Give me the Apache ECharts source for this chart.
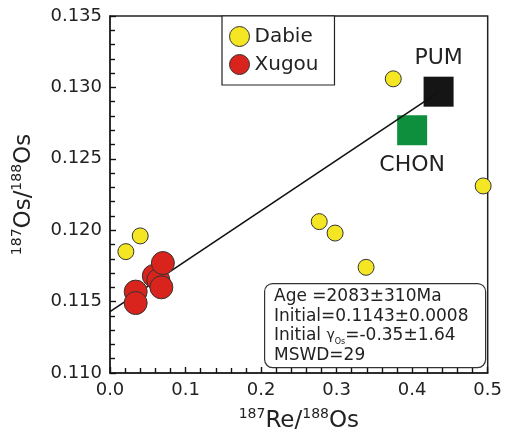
<!DOCTYPE html>
<html>
<head>
<meta charset="utf-8">
<script src="https://cdn.jsdelivr.net/npm/echarts@6/dist/echarts.min.js"></script>
<style>
  html, body { margin: 0; padding: 0; background: #fff; }
  #chart { width: 505px; height: 439px; }
</style>
</head>
<body>
<div id="chart"></div>
<script>
// Re/Os 等时线数据
const dabie = [
  [0.021, 0.1185], [0.040, 0.1196], [0.277, 0.1206], [0.298, 0.1198],
  [0.339, 0.1174], [0.375, 0.1306], [0.494, 0.1231]
];
const xugou = [
  [0.034, 0.1157], [0.034, 0.1149], [0.058, 0.1168],
  [0.064, 0.1165], [0.068, 0.1160], [0.070, 0.1177]
];
const pum = [[0.435, 0.1297]];
const chon = [[0.400, 0.1270]];
const isochron = [[0, 0.1143], [0.433, 0.1296]];
// 坐标轴：最小值、最大值、标签间隔、小数位
const xTicks = { min: 0, max: 0.5, step: 0.1, digits: 1 };
const yTicks = { min: 0.110, max: 0.135, step: 0.005, digits: 3 };
const infoLines = [
  'Age =2083±310Ma',
  'Initial=0.1143±0.0008',
  'Initial {g|γ}{sub|Os}=-0.35±1.64',
  'MSWD=29'
];

const FONT = '"DejaVu Sans", Verdana, sans-serif';
const ink = '#222';

const titleRich = {
  b: { fontFamily: FONT, fontSize: 23, color: ink, verticalAlign: 'bottom', lineHeight: 26 },
  sup: { fontFamily: FONT, fontSize: 14, color: ink, verticalAlign: 'top', lineHeight: 26 }
};

const myChart = echarts.init(document.getElementById('chart'));

const axisCommon = t => ({
  type: 'value',
  min: t.min, max: t.max, interval: t.step,
  splitLine: { show: false },
  axisLine: { show: true, lineStyle: { color: ink, width: 1.5 } },
  axisTick: { show: true, inside: true, length: 6, lineStyle: { color: '#111', width: 1.4 } },
  minorTick: { show: true, splitNumber: 5, length: 5, lineStyle: { color: '#111', width: 1.4 } },
  axisLabel: {
    fontFamily: FONT, fontSize: 18, color: ink,
    formatter: v => v.toFixed(t.digits)
  }
});

const option = {
  animation: false,
  grid: {
    left: 110, top: 16, right: 17, bottom: 66,
    show: true, backgroundColor: 'rgba(0,0,0,0)',
    borderColor: ink, borderWidth: 1.5
  },
  legend: {
    data: ['Dabie', 'Xugou'],
    orient: 'vertical',
    left: 222, top: 16,
    padding: [10, 16, 10, 7],
    itemGap: 7,
    itemWidth: 20, itemHeight: 20,
    itemStyle: { borderColor: '#333', borderWidth: 1 },
    icon: 'circle',
    borderColor: ink, borderWidth: 1.2,
    backgroundColor: '#fff',
    textStyle: { fontFamily: FONT, fontSize: 20, color: ink }
  },
  xAxis: Object.assign(axisCommon(xTicks), {
    name: '{sup|187}{b|Re/}{sup|188}{b|Os}',
    nameLocation: 'middle', nameGap: 34,
    nameTextStyle: { rich: titleRich }
  }),
  yAxis: Object.assign(axisCommon(yTicks), {
    name: '{sup|187}{b|Os/}{sup|188}{b|Os}',
    nameLocation: 'middle', nameGap: 74, nameRotate: 90,
    nameTextStyle: { rich: titleRich }
  }),
  series: [
    {
      name: 'isochron', type: 'line', data: isochron,
      symbol: 'none', z: 3,
      lineStyle: { color: '#111', width: 1.6 }
    },
    {
      name: 'PUM', type: 'scatter', data: pum,
      symbol: 'rect', symbolSize: 30, z: 2,
      itemStyle: { color: '#151515', opacity: 1 },
      label: {
        show: true, position: 'top', distance: 7, formatter: 'PUM',
        fontFamily: FONT, fontSize: 22, color: ink
      }
    },
    {
      name: 'CHON', type: 'scatter', data: chon,
      symbol: 'rect', symbolSize: 30, z: 2,
      itemStyle: { color: '#0e8f3e', opacity: 1 },
      label: {
        show: true, position: 'bottom', distance: 9, formatter: 'CHON',
        fontFamily: FONT, fontSize: 22, color: ink
      }
    },
    {
      name: 'Dabie', type: 'scatter', data: dabie,
      symbolSize: 16, z: 4,
      itemStyle: { color: '#f4e623', borderColor: '#333', borderWidth: 1, opacity: 1 }
    },
    {
      name: 'Xugou', type: 'scatter', data: xugou,
      symbolSize: 23, z: 4,
      itemStyle: { color: '#d8241c', borderColor: '#333', borderWidth: 1, opacity: 1 }
    }
  ],
  graphic: [
    {
      type: 'rect', left: 264, top: 283, z: 10,
      shape: { width: 221, height: 84, r: 8 },
      style: { fill: '#fff', stroke: '#333', lineWidth: 1.2 }
    },
    {
      type: 'text', left: 274, top: 287, z: 11,
      style: {
        text: infoLines.join('\n'),
        fontFamily: FONT, fontSize: 17, lineHeight: 19.5, fill: ink,
        rich: {
          g: { fontFamily: FONT, fontSize: 14, fill: ink, lineHeight: 19.5 },
          sub: { fontFamily: FONT, fontSize: 8, fill: ink, verticalAlign: 'bottom', lineHeight: 19.5 }
        }
      }
    }
  ]
};

myChart.setOption(option);
</script>
</body>
</html>
